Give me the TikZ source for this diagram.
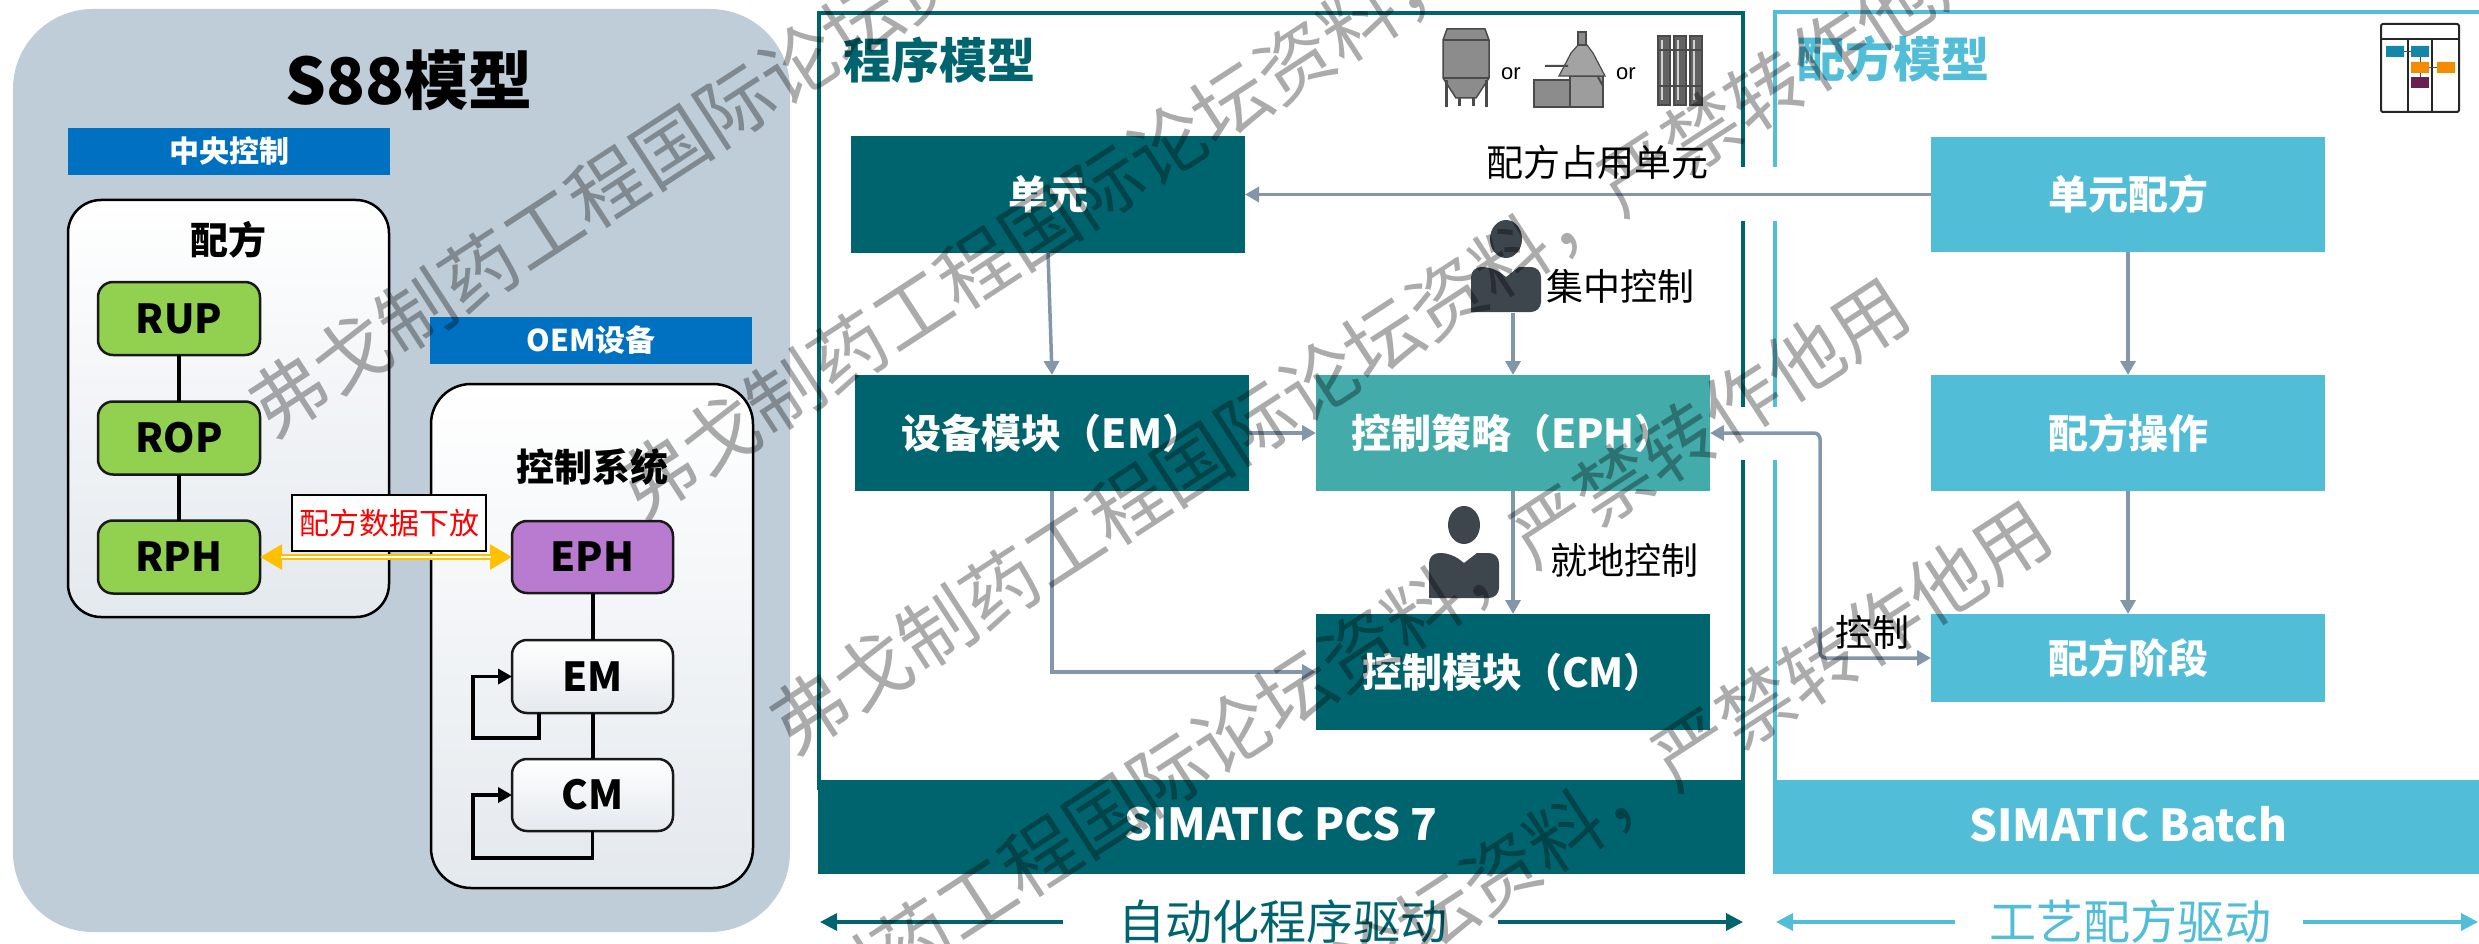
\documentclass[tikz,border=0pt]{standalone}
\usepackage{fontspec}
\setmainfont{Noto Sans CJK SC}
\newfontfamily\arialf{Liberation Sans}
\usetikzlibrary{arrows.meta}
\newcommand\fsz[1]{\fontsize{#1}{#1}\selectfont}
\definecolor{panelgray}{HTML}{BFCDD8}
\definecolor{barblue}{HTML}{0070C0}
\definecolor{leafgreen}{HTML}{92D050}
\definecolor{ephpurple}{HTML}{B97BCF}
\definecolor{boxgray}{HTML}{E4E9EE}
\definecolor{tealdark}{HTML}{00646E}
\definecolor{teallight}{HTML}{43ABAA}
\definecolor{cyanb}{HTML}{52BDD7}
\definecolor{agray}{HTML}{8497AA}
\definecolor{persongray}{HTML}{3D464D}
\definecolor{arrowyellow}{HTML}{FFC000}
\definecolor{eqgray}{HTML}{8C8C8C}
\definecolor{eqdark}{HTML}{4A4A4A}
\definecolor{laneteal}{HTML}{1487A8}
\definecolor{laneorange}{HTML}{F28C00}
\definecolor{lanepurple}{HTML}{6B1F4F}
\begin{document}
\begin{tikzpicture}[x=1pt, y=-1pt,
  every node/.style={inner sep=0pt, outer sep=0pt},
  bluebar/.style={rectangle, fill=barblue, text=white, minimum width=322pt, minimum height=47pt, font=\bfseries\fsz{30}},
  groupbox/.style={rectangle, draw=black, line width=2.5pt, top color=white, bottom color=boxgray},
  leafbox/.style={rectangle, rounded corners=15pt, draw=black!90, line width=2.5pt, minimum width=162pt, minimum height=73pt, font=\bfseries\fsz{40}},
  greenbox/.style={leafbox, fill=leafgreen},
  purplebox/.style={leafbox, fill=ephpurple},
  whitebox/.style={leafbox, top color=white, bottom color=boxgray},
  link/.style={draw=black, line width=4pt},
  loopline/.style={draw=black, line width=3.5pt, -{Triangle[length=14pt,width=15pt]}},
  procbox/.style={rectangle, fill=tealdark, text=white, minimum width=394pt, minimum height=116pt, font=\bfseries\fsz{40}},
  recbox/.style={rectangle, fill=cyanb, text=white, minimum width=394pt, minimum height=116pt, font=\bfseries\fsz{40}},
  garrow/.style={draw=agray, line width=3.5pt, -{Triangle[length=14pt,width=15pt]}},
  lbl/.style={font=\fsz{37}},
  framet/.style={draw=tealdark, line width=3.5pt},
  framec/.style={draw=cyanb, line width=3.5pt},
  wm/.style={font=\fsz{76}, text=black, text opacity=0.33, rotate=33, anchor=west}
]
\useasboundingbox (0,0) rectangle (2479,944);

% ---------- S88 panel ----------
\node[rectangle, fill=panelgray, rounded corners=80pt, minimum width=777pt, minimum height=923pt] (s88) at (401.5,470.5) {};
\node[font=\bfseries\fsz{64}] (s88t) at (409,80) {S88模型};
\node[bluebar] (cenbar) at (229,151.5) {中央控制};
\node[groupbox, rounded corners=33pt, minimum width=321pt, minimum height=417pt] (recipe) at (228.5,408.5) {};
\node[font=\bfseries\fsz{38}] (recipet) at (228,240) {配方};
\node[greenbox] (rup) at (179,318.5) {RUP};
\node[greenbox] (rop) at (179,438) {ROP};
\node[greenbox] (rph) at (179,557) {RPH};
\draw[link] (rup) -- (rop);
\draw[link] (rop) -- (rph);

\node[bluebar] (oembar) at (591,340.5) {OEM设备};
\node[groupbox, rounded corners=40pt, minimum width=322pt, minimum height=504pt] (ctlsys) at (592,636) {};
\node[font=\bfseries\fsz{38}] (ctlsyst) at (592,467) {控制系统};
\node[purplebox, minimum width=161pt, minimum height=72pt] (eph) at (592.5,557) {EPH};
\node[whitebox, minimum width=161pt] (em) at (592.5,676.5) {EM};
\node[whitebox, minimum width=161pt, minimum height=72pt] (cm) at (592.5,795) {CM};
\draw[link] (eph) -- (em);
\draw[link] (em) -- (cm);
\coordinate (emloop) at (473,738);
\coordinate (cmloop) at (473,858);
\draw[loopline] ([xshift=-53.5pt]em.south) |- (emloop) |- (em.west);
\draw[loopline] (cm.south) |- (cmloop) |- (cm.west);

\node[rectangle, draw=black, line width=2.5pt, fill=white, minimum width=194pt, minimum height=56pt, text=red, font=\fsz{30}] (dl) at (389,523) {配方数据下放};
\draw[arrowyellow, line width=6.5pt, {Triangle[length=22pt,width=24pt]}-{Triangle[length=22pt,width=24pt]}] (rph.east) -- (eph.west);
\draw[white, line width=2.4pt, shorten <=21pt, shorten >=21pt] (rph.east) -- (eph.west);

% ---------- frames ----------
\draw[framet] (1743,167) -- (1743,13) -- (819,13) -- (819,790);
\draw[framet] (1743,221) -- (1743,407);
\draw[framet] (1743,460) -- (1743,790);
\draw[framec] (1775,167) -- (1775,12) -- (2485,12);
\draw[framec] (1775,221) -- (1775,407);
\draw[framec] (1775,460) -- (1775,790);

% ---------- procedural model ----------
\node[text=tealdark, font=\bfseries\fsz{48}] (progt) at (939,60) {程序模型};
\node[procbox] (unit) at (1048,194.5) {单元};
\node[procbox] (emb) at (1052,433) {设备模块（EM）};
\node[procbox, fill=teallight] (ephb) at (1513,433) {控制策略（EPH）};
\node[procbox] (cmb) at (1513,672) {控制模块（CM）};
\node[rectangle, fill=tealdark, minimum width=927pt, minimum height=94pt] (pcsbar) at (1281.5,826.5) {};
\node[text=white, font=\bfseries\fsz{44}] (pcst) at (1281,824) {SIMATIC PCS 7};

% equipment pictograms
\filldraw[fill=eqgray, draw=eqdark, line width=1.5pt] (1443,40) -- (1447,29) -- (1485,29) -- (1489,40) -- (1489,78) -- (1476,98) -- (1456,98) -- (1443,78) -- cycle;
\draw[eqdark, line width=1.5pt] (1443,40) -- (1489,40) (1443,78) -- (1489,78);
\draw[eqdark, line width=3pt] (1446,80) -- (1446,107) (1486,80) -- (1486,107) (1459,98) -- (1459,106) (1473,98) -- (1473,106);
\node[font=\arialf\fsz{22}] (or1) at (1511,74) {or};
\filldraw[fill=eqgray, draw=eqdark, line width=1.2pt] (1534,80) rectangle (1572,107);
\filldraw[fill=eqgray!85, draw=eqdark, line width=1.2pt] (1570,76) rectangle (1603,107);
\filldraw[fill=eqgray!80, draw=eqdark, line width=1.2pt] (1559,76) -- (1571,53) -- (1578,45) -- (1587,45) -- (1593,53) -- (1605,76) -- cycle;
\filldraw[fill=eqgray, draw=eqdark, line width=1.2pt] (1578,45) rectangle (1586,32);
\draw[eqdark, line width=2pt] (1545,66) -- (1568,66) (1598,77) -- (1603,86);
\node[font=\arialf\fsz{22}] (or2) at (1626,74) {or};
\foreach \cx in {1664,1680,1696}{
  \filldraw[fill=eqgray!70!black, draw=eqdark, line width=1.2pt] (\cx-6,36) rectangle (\cx+6,105);
  \draw[eqgray!40, line width=1.5pt] (\cx-2,40) -- (\cx-2,100);
}
\draw[eqdark, line width=2pt] (1657,50) -- (1703,50) (1657,86) -- (1703,86);

% operators
\tikzset{operator/.pic={
  \fill[persongray] (0,0) ellipse [x radius=16, y radius=19];
  \fill[persongray] (-35,73) [rounded corners=10pt] -- (-35,28) -- (-13,28) [sharp corners] -- (0,38) -- (13,28) [rounded corners=10pt] -- (35,28) -- (35,73) [sharp corners] -- cycle;
}}
\pic (op1) at (1506,239) {operator};
\pic (op2) at (1464,525) {operator};
\coordinate (op1foot) at (1513,313);

\node[lbl] (occ) at (1597,162) {配方占用单元};
\node[lbl] (central) at (1620,286) {集中控制};
\node[lbl] (local) at (1624,560) {就地控制};
\node[lbl] (ctl) at (1872,632) {控制};

% ---------- recipe model ----------
\node[text=cyanb, font=\bfseries\fsz{48}] (rect) at (1893,59) {配方模型};
\node[recbox, minimum height=115pt] (ur) at (2128,194.5) {单元配方};
\node[recbox] (ro) at (2128,433) {配方操作};
\node[recbox, minimum height=88pt] (rp) at (2128,658) {配方阶段};
\node[rectangle, fill=cyanb, minimum width=710pt, minimum height=94pt] (batchbar) at (2128,826.5) {};
\node[text=white, font=\bfseries\fsz{44}] (batcht) at (2128,824) {SIMATIC Batch};

% swimlane pictogram
\draw[black!85, line width=2pt, rounded corners=2pt] (2381,24) rectangle (2459,112);
\draw[black!85, line width=2pt] (2381,39) -- (2459,39) (2408,39) -- (2408,112) (2432,39) -- (2432,112);
\draw[eqdark, line width=0.8pt] (2404,51.5) -- (2411,51.5) (2420,57) -- (2420,77) (2429,67.5) -- (2437,67.5);
\fill[laneteal] (2386,46) rectangle (2404,57) (2411,46) rectangle (2429,57);
\fill[laneorange] (2411,62) rectangle (2429,73) (2437,62) rectangle (2455,73);
\fill[lanepurple] (2411,77) rectangle (2429,88);

% ---------- connectors ----------
\draw[garrow] (ur.west) -- (unit.east);
\draw[garrow] (unit.south) -- (emb.north);
\draw[garrow] (emb.east) -- (ephb.west);
\draw[garrow] (emb.south) |- (cmb.west);
\draw[garrow] (op1foot) -- (ephb.north);
\draw[garrow] (ephb.south) -- (cmb.north);
\draw[garrow] (ur.south) -- (ro.north);
\draw[garrow] (ro.south) -- (rp.north);
\coordinate (ctlc) at (1820,433);
\draw[garrow, {Triangle[length=14pt,width=15pt]}-{Triangle[length=14pt,width=15pt]}, rounded corners=6pt] (ephb.east) -- (ctlc) |- (rp.west);

% ---------- driver captions ----------
\node[text=tealdark, font=\fsz{47}] (autot) at (1283,922) {自动化程序驱动};
\coordinate (aL0) at (1063,922); \coordinate (aL1) at (820,922);
\coordinate (aR0) at (1498,922); \coordinate (aR1) at (1743,922);
\draw[tealdark, line width=3.5pt, -{Triangle[length=17pt,width=17pt]}] (aL0) -- (aL1);
\draw[tealdark, line width=3.5pt, -{Triangle[length=17pt,width=17pt]}] (aR0) -- (aR1);
\node[text=cyanb, font=\fsz{47}] (proct) at (2130,922) {工艺配方驱动};
\coordinate (cL0) at (1955,922); \coordinate (cL1) at (1776,922);
\coordinate (cR0) at (2303,922); \coordinate (cR1) at (2478,922);
\draw[cyanb, line width=3.5pt, -{Triangle[length=17pt,width=17pt]}] (cL0) -- (cL1);
\draw[cyanb, line width=3.5pt, -{Triangle[length=17pt,width=17pt]}] (cR0) -- (cR1);

% ---------- watermark ----------
\begin{scope}
\clip (0,0) rectangle (2479,944);
\node[wm] (wmA) at (257,416) {弗戈制药工程国际论坛资料，严禁转作他用};
\node[wm] (wmB) at (626,497) {弗戈制药工程国际论坛资料，严禁转作他用};
\node[wm] (wmC) at (778,733) {弗戈制药工程国际论坛资料，严禁转作他用};
\node[wm] (wmD) at (690,1085) {弗戈制药工程国际论坛资料，严禁转作他用};
\node[wm] (wmF) at (832,1308) {弗戈制药工程国际论坛资料，严禁转作他用};
\end{scope}
\end{tikzpicture}
\end{document}
